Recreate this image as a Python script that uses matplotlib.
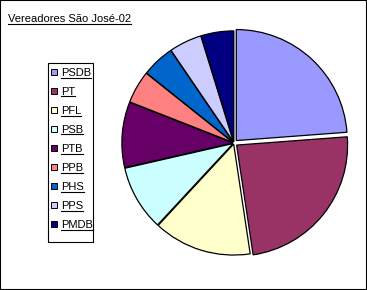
import matplotlib
matplotlib.use("Agg")
import matplotlib.pyplot as plt
from matplotlib.lines import Line2D
from matplotlib.patches import Rectangle

title = "Vereadores São José-02"
parties = ["PSDB", "PT", "PFL", "PSB", "PTB", "PPB", "PHS", "PPS", "PMDB"]
seats = [5, 5, 3, 2, 2, 1, 1, 1, 1]
colors = ["#9999FF", "#993366", "#FFFFCC", "#CCFFFF", "#660066",
          "#FF8080", "#0066CC", "#CCCCFF", "#000080"]
explode = [0.03, 0.03, 0.01, 0.01, 0.01, 0.01, 0.01, 0.01, 0.01]

plt.rcParams['font.family'] = ['Liberation Sans', 'DejaVu Sans']

W, H = 367, 290
fig = plt.figure(figsize=(W / 100, H / 100), dpi=100)

def fx(px):
    return px / W

def fy(py):
    return 1 - py / H

# pie axes
cx, cy, r = 234, 143, 111
ax = fig.add_axes([fx(cx - r), fy(cy + r), 2 * r / W, 2 * r / H])
wedges, _ = ax.pie(seats, colors=colors, startangle=90, counterclock=False,
                   explode=explode, radius=1.0,
                   wedgeprops=dict(edgecolor="black", linewidth=0.9))
ax.set_xlim(-1.0, 1.0)
ax.set_ylim(-1.0, 1.0)
ax.set_aspect("equal")
ax.axis("off")

# figure border
fig.patches.append(Rectangle((0, 0), 1, 1, transform=fig.transFigure,
                             fill=False, edgecolor="black", linewidth=1.5))

texts = []
t = fig.text(fx(8), fy(22), title, fontsize=8, ha="left", va="baseline")
texts.append(t)

# legend box
lx0, ly0, lx1, ly1 = 48, 63, 93, 242
fig.patches.append(Rectangle((fx(lx0), fy(ly1)), fx(lx1 - lx0), (ly1 - ly0) / H,
                             transform=fig.transFigure, fill=False,
                             edgecolor="black", linewidth=0.8))
ys = [72, 91, 110, 129, 148, 167, 186, 205, 224]
for name, col, yy in zip(parties, colors, ys):
    fig.patches.append(Rectangle((fx(51), fy(yy + 3)), fx(6), 6 / H,
                                 transform=fig.transFigure, facecolor=col,
                                 edgecolor="black", linewidth=0.7))
    tt = fig.text(fx(61), fy(yy + 4), name, fontsize=8, ha="left", va="baseline")
    texts.append(tt)

fig.canvas.draw()
renderer = fig.canvas.get_renderer()
for tt in texts:
    bb = tt.get_window_extent(renderer)
    x0, x1 = bb.x0 / W, bb.x1 / W
    ybase = tt.get_position()[1] - 1.5 / H
    fig.add_artist(Line2D([x0, x1], [ybase, ybase], transform=fig.transFigure,
                          color="black", linewidth=0.8))

fig.savefig("out.png", dpi=100)
